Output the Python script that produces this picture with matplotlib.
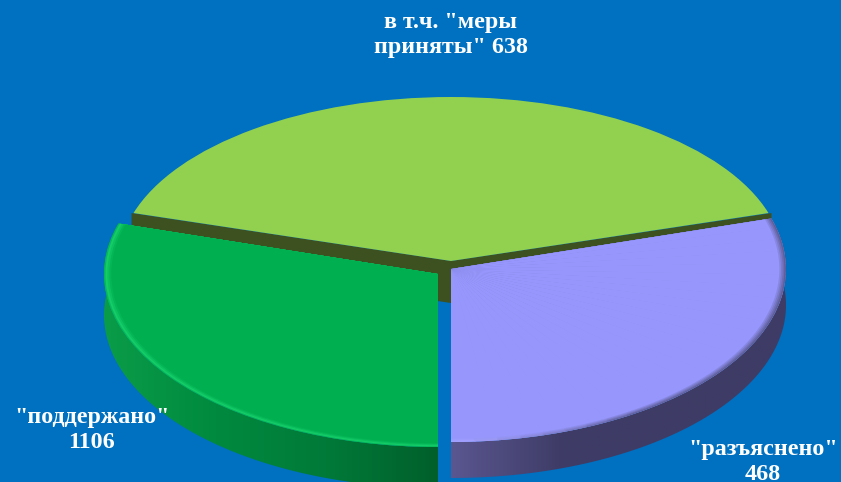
import matplotlib
matplotlib.use('Agg')
import matplotlib.pyplot as plt
import numpy as np
from matplotlib.colors import LinearSegmentedColormap, to_rgb
from matplotlib.patches import Polygon, Wedge
from matplotlib.transforms import Affine2D

plt.rcParams['font.family'] = ['Liberation Serif', 'DejaVu Serif']

# the slices are not drawn in proportion to the printed numbers,
# so the angles are read off the picture separately
slice_names = ['в т.ч. "меры\nприняты" 638', '"поддержано"\n1106', '"разъяснено"\n468']
printed_values = [638, 1106, 468]
slice_degrees = [146, 107, 107]
slice_colors = ['#92D050', '#00AF50', '#9696FC']

BG = '#0070C0'
OLIVE = '#3C5020'

# cx, cy, a, b, depth in pixels for each slice (the back one is flatter)
geom = [(451, 261, 332, 164, 42), (438, 274, 334, 173, 41), (451, 269, 335, 173, 36)]
label_pos = [(451, 35), (92, 430), (763, 462)]


def ell(g, t):
    t = np.radians(t)
    return g[0] + g[2] * np.cos(t), g[1] - g[3] * np.sin(t)


def wall_poly(g, t1, t2):
    t = np.linspace(t1, t2, 200)
    x, y = ell(g, t)
    return np.r_[np.c_[x, y], np.c_[x[::-1], y[::-1] + g[4]]]


def gradient_wall(ax, poly, stops, zorder):
    cmap = LinearSegmentedColormap.from_list('w', stops)
    x0, x1 = poly[:, 0].min(), poly[:, 0].max()
    im = ax.imshow(np.linspace(0, 1, 256)[None, :], cmap=cmap, aspect='auto', zorder=zorder,
                   extent=(x0, x1, poly[:, 1].max(), poly[:, 1].min()))
    clip = Polygon(poly, closed=True, transform=ax.transData, fc='none', ec='none')
    ax.add_patch(clip)
    im.set_clip_path(clip)


def mix(c1, c2, f):
    return tuple(np.array(to_rgb(c1)) * (1 - f) + np.array(to_rgb(c2)) * f)


def face_transform(g):
    return Affine2D().scale(g[2], -g[3]).translate(g[0], g[1]) + ax.transData


fig = plt.figure(figsize=(8.41, 4.82), dpi=100, facecolor=BG)
ax = fig.add_axes([0, 0, 1, 1])

wedges, _ = ax.pie(slice_degrees, colors=slice_colors, startangle=17, counterclock=True)
ax.set_aspect('auto')

back, left, right = [(w.theta1, w.theta2) for w in wedges]

# walls of the back slice, only the radial faces show
g = geom[0]
x1, y1 = ell(g, back[1])
x2, y2 = ell(g, back[0])
ax.add_patch(Polygon([(x1 - 2, y1), (g[0], g[1]), (x2 + 3, y2), (x2 + 3, y2 + g[4]),
                      (g[0], g[1] + g[4]), (x1 - 2, y1 + g[4])], fc=OLIVE, ec='none', zorder=2))

# outer walls of the two front slices
gradient_wall(ax, wall_poly(geom[1], left[0], left[1]),
              ['#0A9C48', '#008A3F', '#007A38', '#005F2B'], 4)
gradient_wall(ax, wall_poly(geom[2], right[0], right[1]),
              ['#5A5690', '#3E3C66', '#3E3C66', '#3E3C66'], 6)

# top faces, with a few scaled copies for the soft rim
for i, w in enumerate(wedges):
    g = geom[i]
    w.set_transform(face_transform(g))
    w.set_zorder(3 + 2 * i)
    w.set_edgecolor('none')
    if i == 1:
        # green: bright stripe just inside the edge
        rim = [(1.0, '#06B85A'), (0.996, '#14CC68'), (0.99, '#0CC260'), (0.984, '#05B656'), (0.978, slice_colors[1])]
        for r, col in rim:
            ax.add_patch(Wedge((0, 0), r, w.theta1, w.theta2, fc=col, ec='none',
                               transform=face_transform(g), zorder=3 + 2 * i))
    if i == 2:
        # purple: dark on the right, going to a light edge at the bottom
        sectors = np.arange(w.theta1, w.theta2, 4.0)
        for k in range(5):
            for s in sectors:
                fade = np.clip((s - 270) / 30, 0, 1)
                edge = mix('#A4A2FF', '#5F5F9C', fade)
                ax.add_patch(Wedge((0, 0), 1 - 0.005 * k, s, min(s + 4.2, w.theta2), ec='none',
                                   fc=mix(edge, slice_colors[2], k / 4),
                                   transform=face_transform(g), zorder=3 + 2 * i))

for name, (x, y) in zip(slice_names, label_pos):
    ax.text(x, y, name, color='white', fontsize=17.3, fontweight='bold', ha='center', va='center',
            linespacing=1.28, zorder=20)

ax.set_aspect('auto')
ax.set_xlim(0, 841)
ax.set_ylim(482, 0)
ax.axis('off')
fig.savefig('out.png', dpi=100, facecolor=BG)
